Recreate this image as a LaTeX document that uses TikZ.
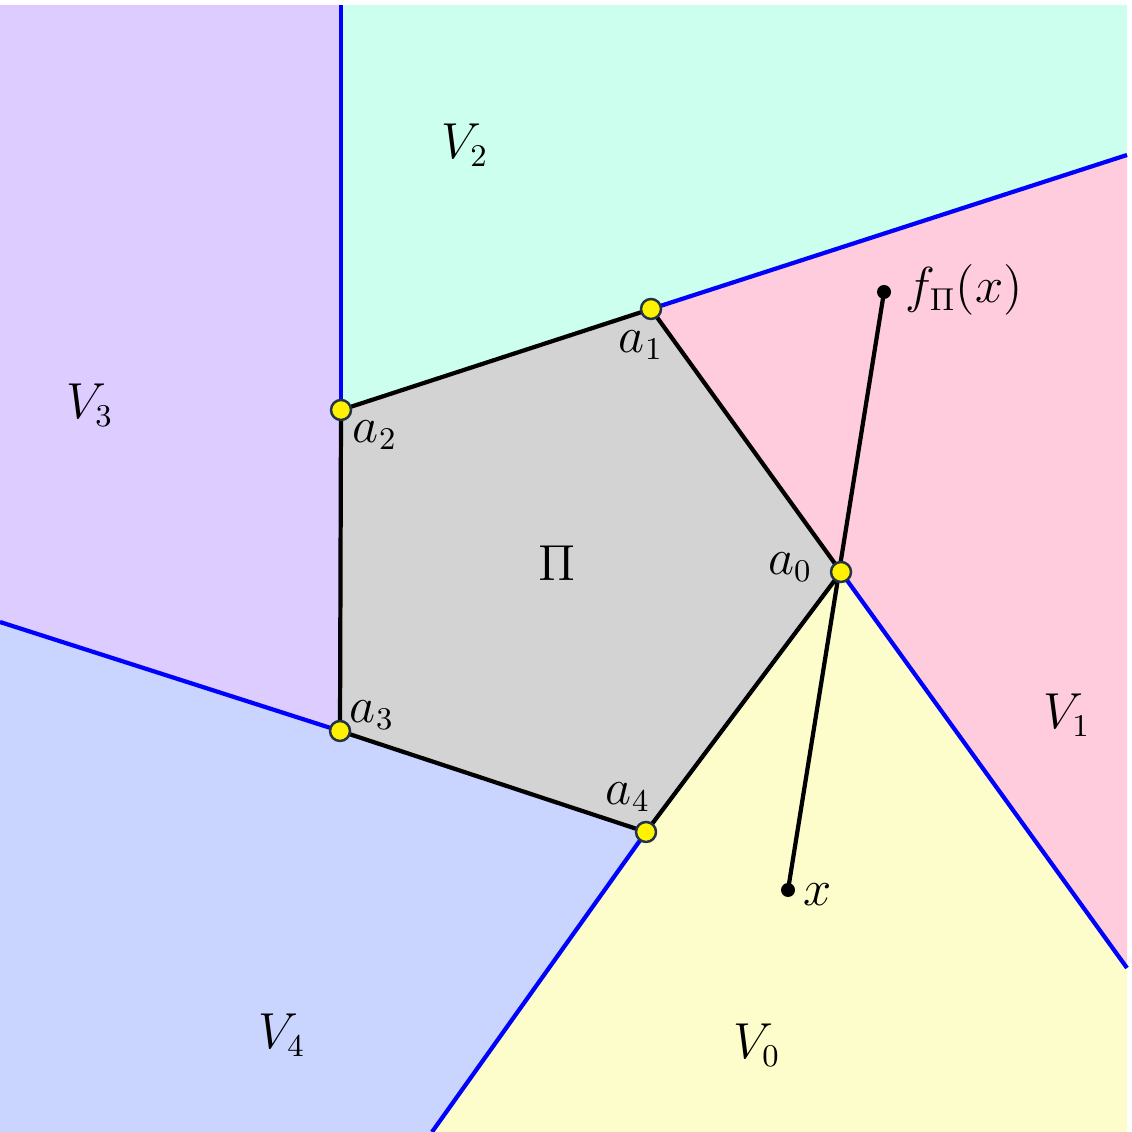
\documentclass[tikz,border=0pt]{standalone}
\usepackage{amsmath}
\usepackage{amssymb}
\usepackage[dvipsnames]{xcolor}
\definecolor{cellzero}{HTML}{FDFDCC}
\definecolor{cellone}{HTML}{FFCCDD}
\definecolor{celltwo}{HTML}{CCFFEE}
\definecolor{cellthree}{HTML}{DCCCFF}
\definecolor{cellfour}{HTML}{CAD5FF}
\definecolor{polygrey}{HTML}{D3D3D3}
\definecolor{rimdark}{HTML}{223344}

\begin{document}
\begin{tikzpicture}[
    every node/.style = {font=\fontsize{13.5}{16}\selectfont},
    ridge/.style = {draw=blue, line width=1.2pt},
    side/.style = {draw=black, line width=1.2pt, line join=round},
    vert/.style = {shape=circle, fill=yellow, draw=rimdark,
      line width=0.7pt, inner sep=0pt, minimum size=0.2cm},
    pt/.style = {shape=circle, fill=black, inner sep=0pt, minimum size=0.14cm}]
  \useasboundingbox (0,0) rectangle (11.32,11.32);
  % vertices of the pentagon
  \coordinate (p0) at (8.41,5.60);
  \coordinate (p1) at (6.51,8.23);
  \coordinate (p2) at (3.41,7.22);
  \coordinate (p3) at (3.40,4.01);
  \coordinate (p4) at (6.46,3.00);
  % where the ridges leave the frame
  \coordinate (e0) at (11.27,1.64);
  \coordinate (e1) at (11.27,9.77);
  \coordinate (e2) at (3.41,11.27);
  \coordinate (e3) at (0,5.10);
  \coordinate (e4) at (4.32,0);
  \coordinate (tl) at (0,11.27);
  \coordinate (tr) at (11.27,11.27);
  \coordinate (br) at (11.27,0);
  \coordinate (bl) at (0,0);
  % cells
  \fill[cellzero] (p0) -- (e0) -- (br) -- (e4) -- (p4) -- cycle;
  \fill[cellone] (p1) -- (e1) -- (e0) -- (p0) -- cycle;
  \fill[celltwo] (p2) -- (e2) -- (tr) -- (e1) -- (p1) -- cycle;
  \fill[cellthree] (p3) -- (e3) -- (tl) -- (e2) -- (p2) -- cycle;
  \fill[cellfour] (p4) -- (e4) -- (bl) -- (e3) -- (p3) -- cycle;
  \draw[ridge] (p0) -- (e0);
  \draw[ridge] (p1) -- (e1);
  \draw[ridge] (p2) -- (e2);
  \draw[ridge] (p3) -- (e3);
  \draw[ridge] (p4) -- (e4);
  \filldraw[side, fill=polygrey] (p0) -- (p1) -- (p2) -- (p3) -- (p4) -- cycle;
  % the point and its image
  \node[pt] (x) at (7.88,2.42) {};
  \node[pt] (fx) at (8.84,8.40) {};
  \draw[line width=1.2pt] (x.center) -- (fx.center);
  \foreach \i in {0,...,4}
    \node[vert] (a\i) at (p\i) {};
  % labels
  \node (lb0) at (7.90,5.65) {$a_0$};
  \node (lb1) at (6.41,7.87) {$a_1$};
  \node (lb2) at (3.75,6.97) {$a_2$};
  \node (lb3) at (3.72,4.17) {$a_3$};
  \node (lb4) at (6.28,3.35) {$a_4$};
  \node (lx) at (8.18,2.37) {$x$};
  \node[anchor=west] (lfx) at (8.93,8.42) {$f_{\Pi}(x)$};
  \node (lPi) at (5.57,5.69) {$\Pi$};
  \node (V0) at (7.57,0.87) {$V_0$};
  \node (V1) at (10.67,4.17) {$V_1$};
  \node (V2) at (4.65,9.87) {$V_2$};
  \node (V3) at (0.90,7.27) {$V_3$};
  \node (V4) at (2.82,0.97) {$V_4$};
\end{tikzpicture}
\end{document}
